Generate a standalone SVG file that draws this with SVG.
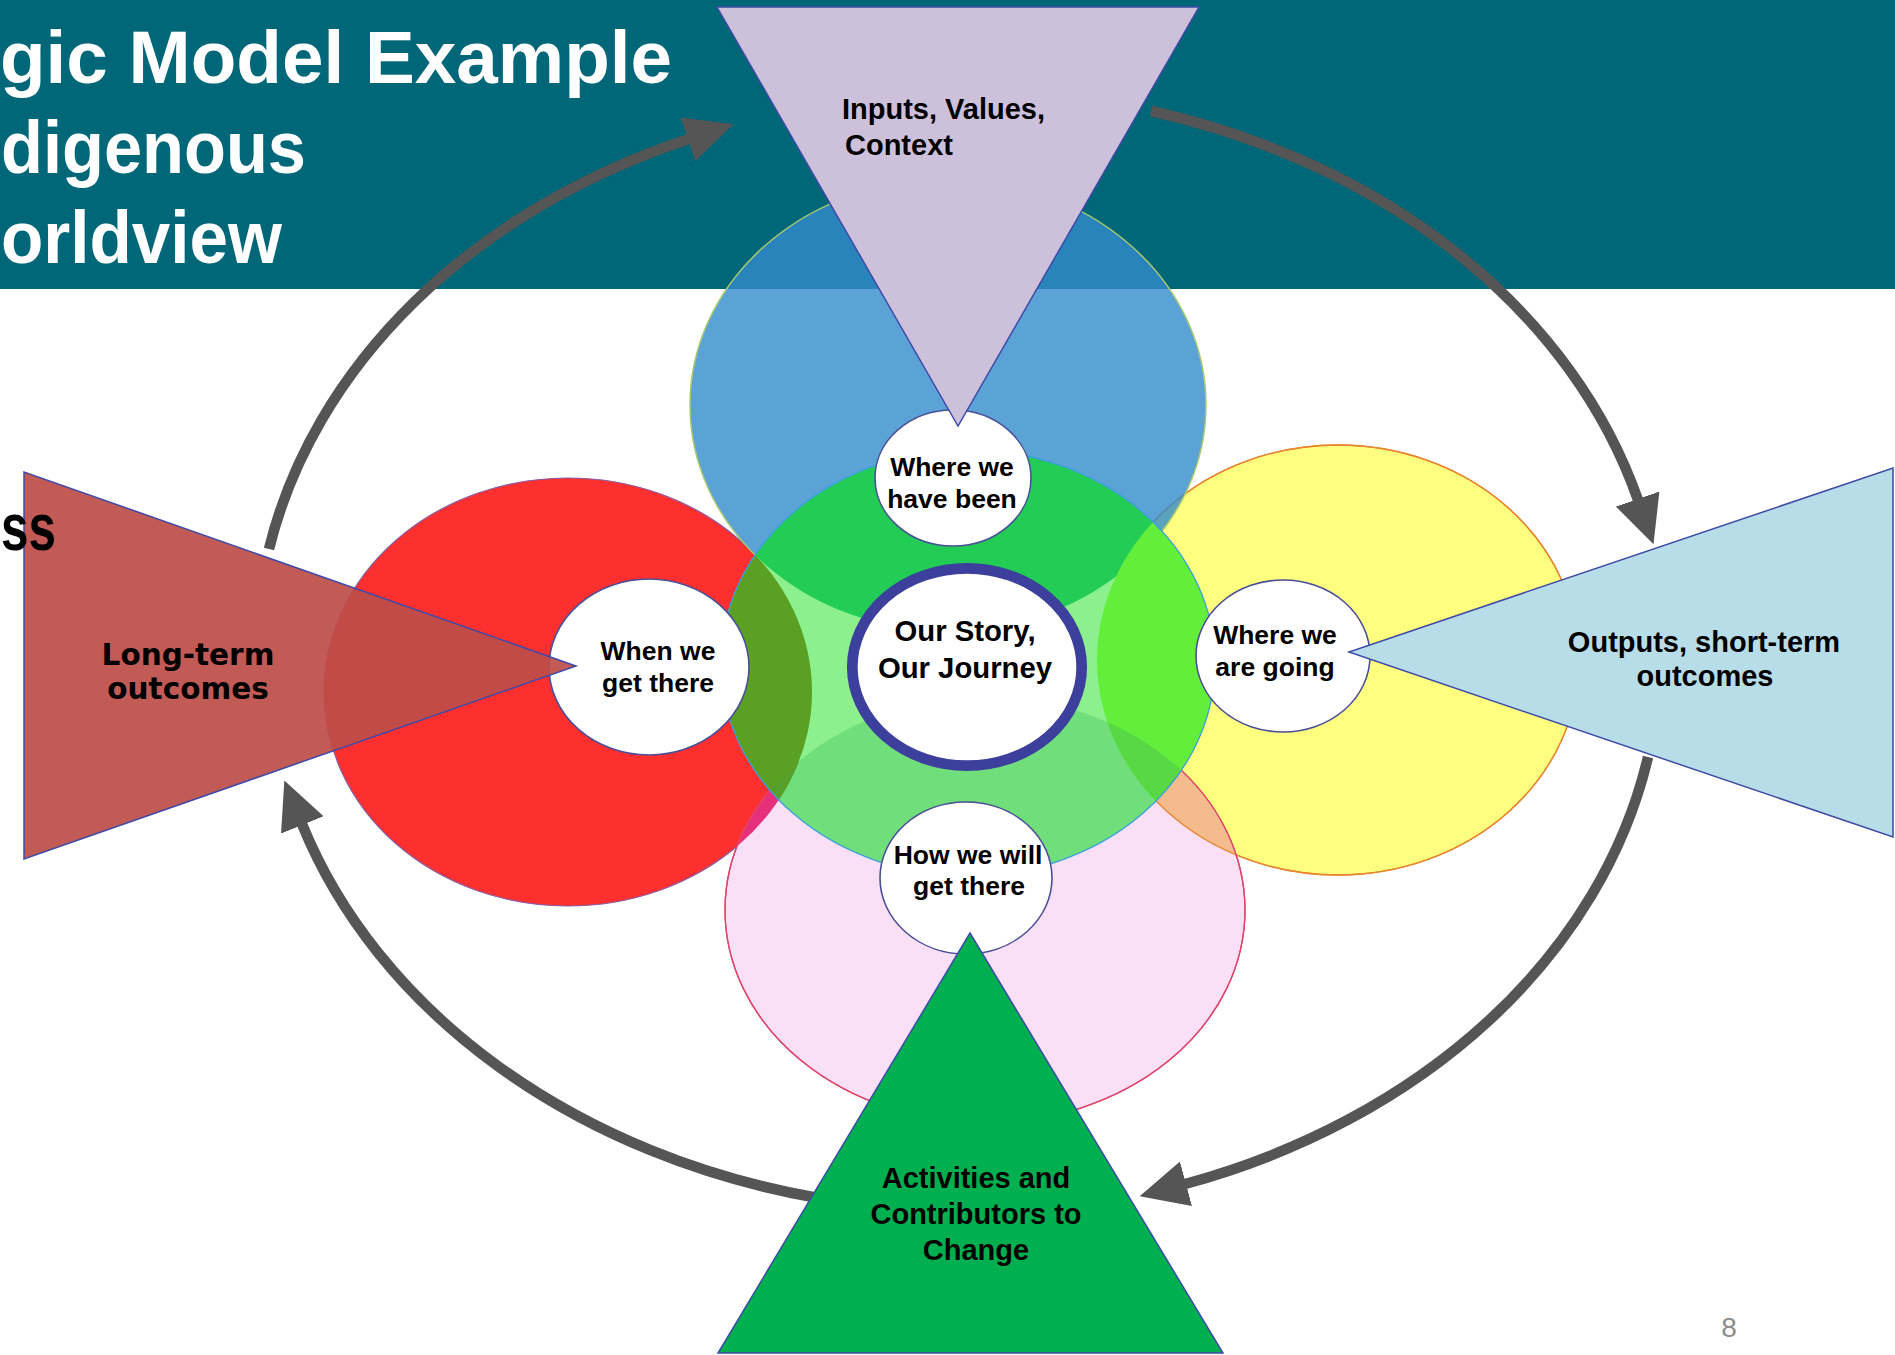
<svg xmlns="http://www.w3.org/2000/svg" width="1895" height="1355" viewBox="0 0 1895 1355">
<defs>
<style>
.title{font-family:"Liberation Sans",Arial,sans-serif;font-weight:bold;font-size:75px;fill:#ffffff}
.lbl{font-family:"Liberation Sans",Arial,sans-serif;font-weight:bold;fill:#000000;text-anchor:middle}
.tri{stroke:#3F4AA8;stroke-width:1.5;stroke-linejoin:miter}
.bub{fill:#ffffff;stroke:#4B4F98;stroke-width:1.6}
.arc{fill:none;stroke:#555555;stroke-width:10.5}
.edge{fill:none;stroke-width:1.3}
</style>
<marker id="ah" viewBox="0 0 48 46" refX="1" refY="23" markerWidth="48" markerHeight="46" orient="auto" markerUnits="userSpaceOnUse">
<path d="M0,0 L48,23 L0,46 z" fill="#555555"/>
</marker>
<clipPath id="cG"><ellipse cx="968" cy="663" rx="247" ry="213"/></clipPath>
<clipPath id="cP"><ellipse cx="985" cy="910" rx="260" ry="213"/></clipPath>
</defs>

<rect x="0" y="0" width="1895" height="1355" fill="#ffffff"/>
<rect id="header" x="0" y="0" width="1895" height="289" fill="#006778"/>

<g id="title">
<text class="title" x="0" y="83" textLength="672" lengthAdjust="spacingAndGlyphs">gic Model Example</text>
<text class="title" x="1" y="173" textLength="305" lengthAdjust="spacingAndGlyphs">digenous</text>
<text class="title" x="1" y="263" textLength="281" lengthAdjust="spacingAndGlyphs">orldview</text>
</g>

<g id="circles">
<ellipse id="red-circle" cx="568" cy="692" rx="244" ry="214" fill="#FE2F2F" stroke="#8A5AA0" stroke-width="1.2"/>
<ellipse id="yellow-circle" cx="1338" cy="660" rx="241" ry="215" fill="#FFFF7F" stroke="#E8862E" stroke-width="1.3"/>
<ellipse id="pink-circle" cx="985" cy="910" rx="260" ry="213" fill="#F9E0F7" stroke="#E0456A" stroke-width="1.3"/>
<g clip-path="url(#cP)">
<ellipse cx="1338" cy="660" rx="241" ry="215" fill="#F4BC8C"/>
<ellipse cx="568" cy="692" rx="244" ry="214" fill="#E6307A"/>
</g>
<ellipse class="edge" cx="1338" cy="660" rx="241" ry="215" stroke="#E8862E"/>
<ellipse class="edge" cx="985" cy="910" rx="260" ry="213" stroke="#E0456A"/>
<ellipse id="blue-circle" cx="948" cy="405" rx="258" ry="226" fill="#328CCC" fill-opacity="0.8" stroke="#A8C870" stroke-width="1.5"/>
<ellipse id="green-circle" cx="968" cy="663" rx="247" ry="213" fill="#8CF08C"/>
<g clip-path="url(#cG)">
<ellipse cx="948" cy="405" rx="258" ry="226" fill="#22CC55"/>
<ellipse cx="985" cy="910" rx="260" ry="213" fill="#70DE7A"/>
<ellipse cx="568" cy="692" rx="244" ry="214" fill="#5AA023"/>
<ellipse cx="1338" cy="660" rx="241" ry="215" fill="#64EE3C"/>
<g clip-path="url(#cP)">
<ellipse cx="1338" cy="660" rx="241" ry="215" fill="#58D844"/>
<ellipse cx="568" cy="692" rx="244" ry="214" fill="#58A02C"/>
</g>
</g>
<ellipse class="edge" cx="968" cy="663" rx="247" ry="213" stroke="#3A9FE0" stroke-width="1.5"/>
</g>

<g id="node-where-we-have-been">
<ellipse class="bub" cx="953" cy="478" rx="78" ry="68"/>
<text class="lbl" font-size="26.5"><tspan x="952" y="476">Where we</tspan><tspan x="952" y="508">have been</tspan></text>
</g>
<g id="node-when-we-get-there">
<ellipse class="bub" cx="649" cy="667" rx="100" ry="88"/>
<text class="lbl" font-size="26.5"><tspan x="658" y="660">When we</tspan><tspan x="658" y="692">get there</tspan></text>
</g>
<g id="node-where-we-are-going">
<ellipse class="bub" cx="1283" cy="656" rx="87" ry="76"/>
<text class="lbl" font-size="26.5"><tspan x="1275" y="644">Where we</tspan><tspan x="1275" y="676">are going</tspan></text>
</g>
<g id="node-how-we-will-get-there">
<ellipse class="bub" cx="966" cy="878" rx="86" ry="76"/>
<text class="lbl" font-size="26.5"><tspan x="968" y="864">How we will</tspan><tspan x="969" y="895">get there</tspan></text>
</g>
<g id="node-our-story">
<ellipse cx="967" cy="667" rx="114.7" ry="98.7" fill="#ffffff" stroke="#3C3F9C" stroke-width="10.7"/>
<text class="lbl" font-size="29.3"><tspan x="965" y="641">Our Story,</tspan><tspan x="965" y="678">Our Journey</tspan></text>
</g>

<g id="connectors">
<path class="arc" marker-end="url(#ah)" d="M 269 549 A 700 560 0 0 1 689 139"/>
<path class="arc" marker-end="url(#ah)" d="M 1151 111 A 700 560 0 0 1 1638 500"/>
<path class="arc" marker-end="url(#ah)" d="M 1648 757 A 700 560 0 0 1 1185 1184"/>
<path class="arc" marker-end="url(#ah)" d="M 818 1198 A 700 560 0 0 1 302 824"/>
</g>

<g id="node-inputs">
<polygon class="tri" points="717,7 1199,7 958,426" fill="#CCC0DA"/>
<text class="lbl" font-size="29" style="text-anchor:start"><tspan x="842" y="119">Inputs, Values,</tspan><tspan x="845" y="155">Context</tspan></text>
</g>
<g id="node-long-term">
<polygon class="tri" points="24,472 24,859 576,666" fill="#BD4D49" fill-opacity="0.93"/>
<text font-family="'DejaVu Sans',Verdana,sans-serif" font-weight="bold" font-size="29.5" fill="#000" text-anchor="middle"><tspan x="188" y="665">Long-term</tspan><tspan x="188" y="699">outcomes</tspan></text>
</g>
<g id="node-outputs">
<polygon class="tri" points="1893,468 1893,837 1349,652" fill="#B7DDE8"/>
<text class="lbl" font-size="29"><tspan x="1704" y="652">Outputs, short-term</tspan><tspan x="1705" y="686">outcomes</tspan></text>
</g>
<g id="node-activities">
<polygon class="tri" points="718,1353 1223,1353 970,933" fill="#00B050"/>
<text class="lbl" font-size="29"><tspan x="976" y="1188">Activities and</tspan><tspan x="976" y="1224">Contributors to</tspan><tspan x="976" y="1260">Change</tspan></text>
</g>

<text x="1" y="550" textLength="55" lengthAdjust="spacingAndGlyphs" font-family="'Liberation Sans',Arial,sans-serif" font-weight="bold" font-size="67" fill="#000">ss</text>
<text x="1729" y="1337" font-family="'Liberation Sans',Arial,sans-serif" font-size="28" fill="#8C8C8C" text-anchor="middle">8</text>
</svg>
